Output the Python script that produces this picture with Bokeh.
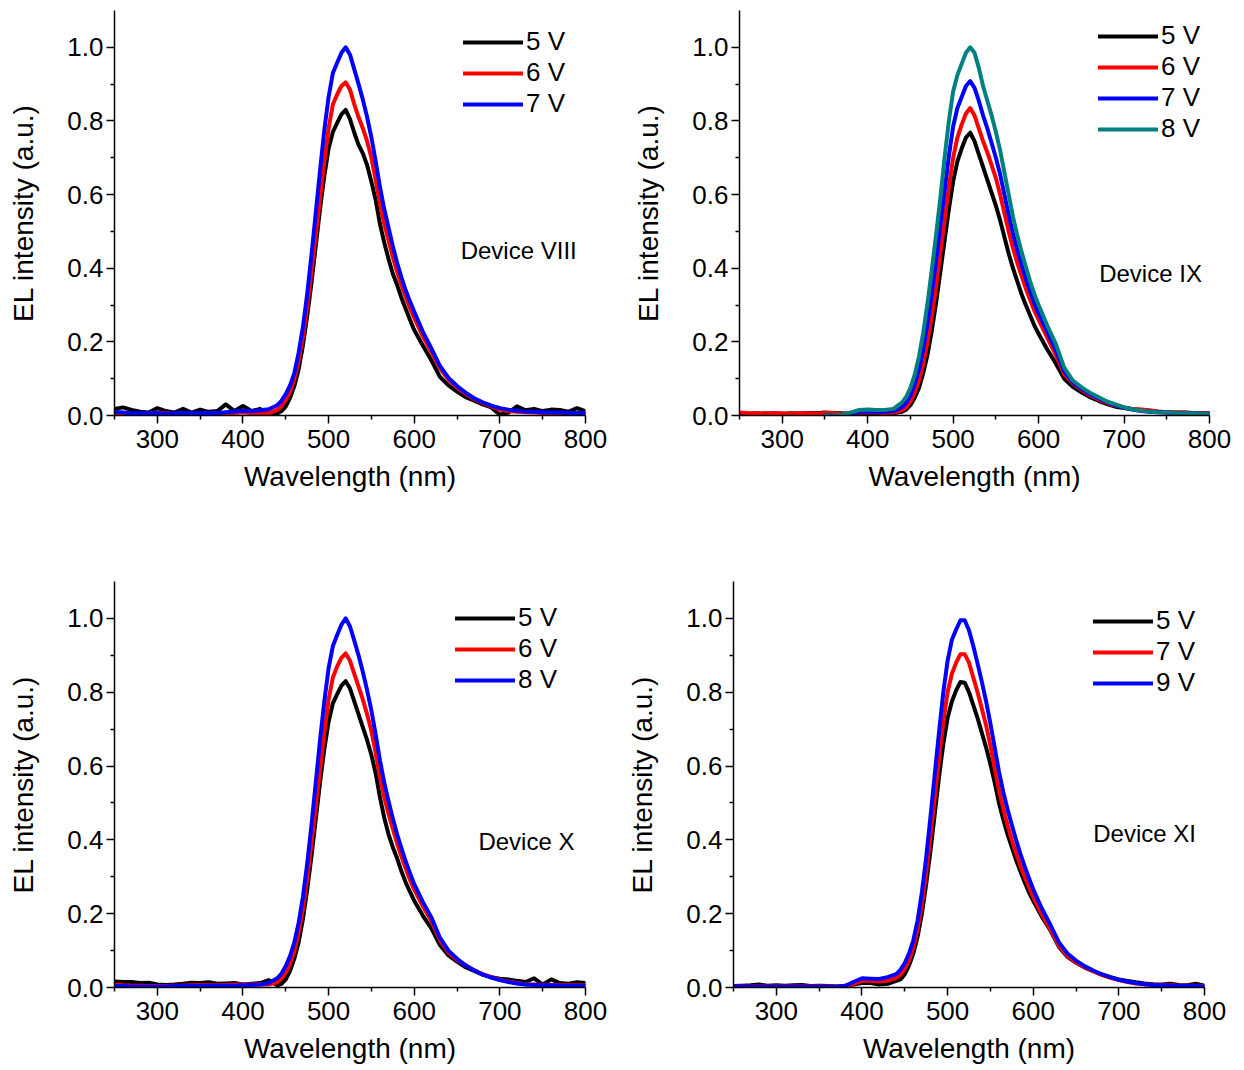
from bokeh.plotting import figure
from bokeh.models import Range1d, FixedTicker, PrintfTickFormatter, Legend, LegendItem, Label
from bokeh.layouts import column, row
from bokeh.embed import file_html
from bokeh.resources import INLINE

# Wavelength grid (nm)
WL = [250, 260, 270, 280, 290, 300, 310, 320, 330, 340, 350, 360, 370, 380, 390, 400, 410, 420, 430,
      440, 445, 450, 455, 460, 465, 470, 475, 480, 485, 490, 495, 500, 505, 510, 515, 520, 525, 530,
      535, 540, 545, 550, 555, 560, 565, 570, 575, 580, 585, 590, 595, 600,
      610, 620, 630, 640, 650, 660, 670, 680, 690, 700, 710, 720, 730, 740, 750, 760, 770, 780, 790, 800]
WL_FROM_350 = WL[10:]

# ---- Device VIII ----
VIII_5V = ([.018, .022, .015, .010, .008, .020, .012, .008, .018, .008, .016, .010, .012, .030, .012, .026, .012, .018, .004]
           + [.005, .012, .025, .048, .080, .125, .190, .270, .360, .460, .560, .650, .725, .770, .795, .818, .830, .805, .768,
              .735, .712, .680, .635, .585, .520, .470, .425, .385, .355, .320, .290, .260, .232]
           + [.190, .150, .105, .082, .065, .050, .040, .030, .022, .002, .008, .025, .014, .018, .012, .016, .015, .010, .020, .012])
VIII_6V = ([.006, .004, .003, .004, .005, .008, .006, .004, .006, .004, .003, .005, .006, .004, .007, .009, .006, .004, .006]
           + [.015, .026, .042, .065, .098, .148, .212, .295, .390, .490, .590, .690, .780, .845, .872, .895, .905, .885, .845,
              .810, .780, .745, .700, .640, .575, .520, .475, .430, .390, .355, .322, .292, .265]
           + [.215, .172, .128, .097, .076, .059, .045, .034, .025, .016, .012, .010, .009, .008, .007, .007, .006, .006, .005, .004])
VIII_7V = ([.010, .008, .006, .006, .006, .007, .005, .006, .007, .006, .006, .007, .007, .009, .011, .013, .012, .014, .017]
           + [.028, .040, .058, .082, .115, .170, .240, .330, .435, .550, .665, .775, .865, .930, .958, .985, 1.000, .980, .940,
              .900, .858, .810, .755, .690, .620, .560, .510, .460, .415, .375, .340, .310, .282]
           + [.228, .182, .135, .102, .080, .062, .047, .036, .027, .020, .016, .013, .011, .010, .009, .008, .008, .007, .007, .006])

# ---- Device IX ----
IX_5V = ([.004, .005, .004, .006, .005, .004, .006, .005, .007, .006, .008, .007, .006, .004, .003, .004, .003, .004, .006]
         + [.010, .016, .028, .048, .075, .115, .165, .230, .305, .390, .475, .560, .635, .690, .725, .755, .768, .745, .710,
            .675, .640, .605, .570, .530, .485, .440, .400, .365, .330, .300, .272, .245, .222]
         + [.180, .142, .100, .078, .063, .050, .040, .031, .024, .020, .017, .015, .012, .010, .009, .008, .008, .007, .007, .007])
IX_6V = ([.008, .006, .007, .005, .007, .006, .005, .007, .006, .005, .007, .006, .005, .006, .008, .009, .008, .007, .008]
         + [.014, .022, .038, .062, .095, .140, .200, .270, .350, .440, .530, .620, .700, .755, .790, .820, .835, .815, .780,
            .745, .715, .680, .645, .600, .550, .500, .455, .415, .380, .345, .315, .285, .260]
         + [.212, .165, .112, .087, .070, .055, .044, .034, .027, .022, .018, .016, .014, .011, .009, .008, .008, .007, .007, .006])
IX_7V = ([.000, .000, .001, .005, .010, .011, .010, .010, .012]
         + [.022, .034, .055, .085, .125, .180, .250, .330, .420, .515, .610, .705, .785, .835, .865, .895, .908, .890, .855,
            .815, .780, .740, .700, .655, .600, .545, .495, .450, .410, .372, .338, .305, .278]
         + [.228, .178, .120, .090, .073, .058, .047, .036, .028, .021, .016, .012, .010, .009, .008, .007, .006, .006, .005, .005])
IX_8V = ([.000, .000, .002, .008, .015, .016, .015, .015, .018]
         + [.035, .050, .075, .110, .160, .225, .305, .395, .490, .590, .700, .800, .880, .925, .955, .985, 1.000, .985, .945,
            .895, .855, .815, .770, .720, .660, .600, .540, .490, .445, .405, .365, .330, .300]
         + [.245, .195, .130, .095, .077, .062, .050, .038, .030, .022, .017, .013, .011, .009, .008, .007, .006, .006, .005, .005])

# ---- Device X ----
X_5V = ([.016, .015, .015, .012, .013, .008, .007, .008, .010, .013, .012, .014, .010, .011, .012, .008, .010, .012, .020]
        + [.006, .010, .022, .045, .078, .122, .185, .265, .355, .455, .555, .645, .720, .770, .795, .818, .830, .810, .775,
           .740, .705, .670, .630, .580, .515, .460, .415, .380, .350, .315, .285, .260, .235]
        + [.195, .160, .115, .087, .070, .055, .045, .035, .028, .024, .022, .018, .015, .025, .008, .022, .012, .010, .014, .012])
X_6V = ([.008, .006, .005, .005, .004, .004, .004, .005, .005, .006, .006, .006, .006, .007, .008, .008, .008, .009, .008]
        + [.014, .024, .040, .064, .098, .148, .212, .295, .390, .490, .590, .690, .780, .840, .870, .893, .905, .885, .850,
           .815, .780, .740, .695, .635, .570, .515, .470, .430, .390, .355, .322, .292, .265]
        + [.220, .180, .128, .095, .075, .060, .047, .036, .028, .021, .016, .012, .009, .008, .007, .007, .006, .006, .006, .006])
X_8V = ([.004, .004, .003, .003, .003, .003, .003, .004, .004, .004, .004, .005, .005, .005, .005, .006, .007, .008, .012]
        + [.025, .038, .058, .085, .122, .175, .245, .335, .440, .555, .670, .775, .865, .925, .955, .983, 1.000, .978, .940,
           .900, .855, .805, .750, .685, .615, .555, .505, .458, .415, .378, .342, .310, .280]
        + [.232, .190, .135, .100, .078, .060, .046, .035, .027, .020, .015, .011, .008, .007, .006, .006, .005, .005, .005, .005])

# ---- Device XI ----
XI_5V = ([.004, .005, .006, .008, .005, .006, .005, .006, .007, .004, .005, .004, .003, .005, .008, .012, .012, .008, .010]
         + [.018, .022, .036, .060, .092, .138, .200, .280, .370, .470, .570, .660, .730, .775, .805, .828, .826, .800, .765,
            .730, .690, .650, .605, .555, .500, .455, .415, .380, .345, .315, .285, .258, .235]
         + [.192, .155, .110, .083, .067, .054, .044, .035, .028, .022, .018, .014, .011, .009, .008, .010, .007, .006, .010, .005])
XI_7V = ([.003, .003, .003, .003, .003, .003, .003, .003, .003, .003, .003, .003, .003, .003, .010, .018, .018, .016, .018]
         + [.026, .034, .050, .074, .108, .158, .225, .310, .410, .515, .620, .720, .800, .850, .880, .903, .903, .880, .840,
            .800, .755, .710, .655, .595, .535, .485, .440, .400, .365, .330, .300, .272, .245]
         + [.198, .158, .113, .085, .068, .055, .044, .034, .026, .020, .015, .011, .009, .007, .006, .006, .005, .005, .005, .004])
XI_9V = ([.003, .003, .002, .002, .002, .002, .002, .002, .002, .002, .002, .002, .002, .004, .015, .025, .024, .023, .028]
         + [.036, .048, .066, .092, .128, .182, .258, .352, .462, .578, .692, .800, .885, .942, .970, .995, .995, .968, .925,
            .878, .828, .775, .715, .650, .585, .530, .483, .440, .400, .362, .328, .296, .266]
         + [.214, .170, .122, .092, .073, .058, .046, .036, .028, .021, .016, .012, .009, .007, .006, .005, .004, .004, .004, .003])

X_TICKS = [300, 400, 500, 600, 700, 800]
X_MINOR = [250, 350, 450, 550, 650, 750]
Y_TICKS = [0.0, 0.2, 0.4, 0.6, 0.8, 1.0]
Y_MINOR = [0.1, 0.3, 0.5, 0.7, 0.9]

BLACK, RED, BLUE, TEAL = "#000000", "#ff0000", "#0000ff", "#008080"
FONT = "Liberation Sans"


def panel(width, height, borders, series, legend_xy, device, dev_xy):
    left, right, top, bottom = borders
    p = figure(width=width, height=height, x_range=Range1d(250, 800), y_range=Range1d(0, 1.1),
               output_backend="svg", toolbar_location=None,
               min_border_left=left, min_border_right=right, min_border_top=top, min_border_bottom=bottom)
    p.outline_line_color = None
    p.grid.visible = False
    p.background_fill_color = "white"
    p.border_fill_color = "white"

    p.xaxis.ticker = FixedTicker(ticks=X_TICKS, minor_ticks=X_MINOR)
    p.yaxis.ticker = FixedTicker(ticks=Y_TICKS, minor_ticks=Y_MINOR)
    p.yaxis.formatter = PrintfTickFormatter(format="%.1f")
    p.xaxis.axis_label = "Wavelength (nm)"
    p.yaxis.axis_label = "EL intensity (a.u.)"
    for ax in (p.xaxis[0], p.yaxis[0]):
        ax.axis_line_width = 1.5
        ax.axis_line_color = "black"
        ax.major_tick_line_width = 1.5
        ax.minor_tick_line_width = 1.5
        ax.major_tick_line_color = "black"
        ax.minor_tick_line_color = "black"
        ax.major_tick_out = 8
        ax.major_tick_in = 0
        ax.minor_tick_out = 4
        ax.minor_tick_in = 0
        ax.major_label_text_font = FONT
        ax.major_label_text_font_size = "26px"
        ax.major_label_text_color = "black"
        ax.axis_label_text_font = FONT
        ax.axis_label_text_font_size = "28px"
        ax.axis_label_text_font_style = "normal"
        ax.axis_label_text_color = "black"
    p.xaxis.major_label_standoff = 6
    p.yaxis.major_label_standoff = 3
    p.xaxis.axis_label_standoff = 10
    p.yaxis.axis_label_standoff = 25

    items = []
    for name, wl, vals, color in series:
        r = p.line(wl, vals, line_color=color, line_width=4, line_join="round", line_cap="round")
        items.append(LegendItem(label=name, renderers=[r]))
    legend = Legend(items=items, location=legend_xy, glyph_width=60, glyph_height=30,
                    label_height=30, spacing=0, padding=0, margin=0, label_standoff=3,
                    border_line_color=None, background_fill_alpha=0,
                    label_text_font=FONT, label_text_font_size="26px", label_text_color="black")
    p.add_layout(legend)
    p.add_layout(Label(x=dev_xy[0], y=dev_xy[1], text=device, text_align="center",
                       text_baseline="middle", text_font=FONT, text_font_size="24px",
                       text_color="black"))
    return p


p1 = panel(620, 540, (114, 35, 10, 125),
           [("5 V", WL, VIII_5V, BLACK), ("6 V", WL, VIII_6V, RED), ("7 V", WL, VIII_7V, BLUE)],
           (349, 296), "Device VIII", (722, 0.448))
p2 = panel(624, 540, (119, 35, 10, 125),
           [("5 V", WL, IX_5V, BLACK), ("6 V", WL, IX_6V, RED), ("7 V", WL_FROM_350, IX_7V, BLUE),
            ("8 V", WL_FROM_350, IX_8V, TEAL)],
           (359, 271), "Device IX", (731, 0.386))
p3 = panel(620, 530, (114, 35, 41, 83),
           [("5 V", WL, X_5V, BLACK), ("6 V", WL, X_6V, RED), ("8 V", WL, X_8V, BLUE)],
           (341, 292), "Device X", (731, 0.396))
p4 = panel(624, 530, (113, 40, 41, 83),
           [("5 V", WL, XI_5V, BLACK), ("7 V", WL, XI_7V, RED), ("9 V", WL, XI_9V, BLUE)],
           (360, 289), "Device XI", (730, 0.417))

layout = column(row(p1, p2), row(p3, p4))
open("out.html", "w").write(file_html(layout, INLINE))
